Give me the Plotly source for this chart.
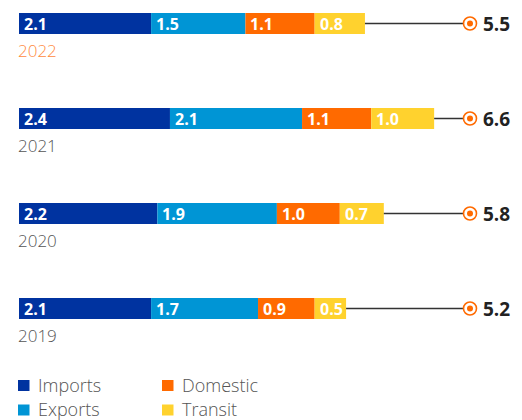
import plotly.graph_objects as go

years = ["2022", "2021", "2020", "2019"]
imports = [2.1, 2.4, 2.2, 2.1]
exports = [1.5, 2.1, 1.9, 1.7]
domestic = [1.1, 1.1, 1.0, 0.9]
transit = [0.8, 1.0, 0.7, 0.5]
totals = [5.5, 6.6, 5.8, 5.2]

series = [
    ("Imports", imports, "#0033A0"),
    ("Exports", exports, "#0095D5"),
    ("Domestic", domestic, "#FF6A00"),
    ("Transit", transit, "#FFD22E"),
]

FONT = "Open Sans"
W, H = 522, 420
px_per_unit = 62.9
x0_px = 19
row_px = 95
row0_px = 23.5
marker_x = (470 - x0_px) / px_per_unit

ypos = list(range(len(years)))

fig = go.Figure()
annotations = []
base = [0.0] * len(years)
for name, vals, color in series:
    fig.add_trace(go.Bar(
        x=vals, y=ypos, base=base, orientation="h", name=name,
        marker=dict(color=color, line=dict(width=0)), width=21 / row_px,
        showlegend=False, hoverinfo="skip",
    ))
    for i, v in enumerate(vals):
        annotations.append(dict(
            x=base[i], y=ypos[i], xref="x", yref="y", text=f"<b>{v:.1f}</b>",
            showarrow=False, xanchor="left", yanchor="middle", xshift=3,
            font=dict(family=FONT, size=16, color="white"),
        ))
    base = [b + v for b, v in zip(base, vals)]

# connector lines and end markers
for i, t in enumerate(totals):
    fig.add_trace(go.Scatter(
        x=[t, marker_x], y=[ypos[i], ypos[i]], mode="lines",
        line=dict(color="#333333", width=1.5), showlegend=False, hoverinfo="skip",
    ))
fig.add_trace(go.Scatter(
    x=[marker_x] * len(years), y=ypos, mode="markers",
    marker=dict(size=13, color="white", line=dict(color="#FF6A00", width=1.6)),
    showlegend=False, hoverinfo="skip",
))
fig.add_trace(go.Scatter(
    x=[marker_x] * len(years), y=ypos, mode="markers",
    marker=dict(size=6, color="#FF6A00"), showlegend=False, hoverinfo="skip",
))
for i, t in enumerate(totals):
    annotations.append(dict(
        x=marker_x, y=ypos[i], xref="x", yref="y", text=f"<b>{t:.1f}</b>",
        showarrow=False, xanchor="left", yanchor="middle", xshift=11,
        font=dict(family=FONT, size=19, color="#222222"),
    ))

# year labels under each bar
for i, yr in enumerate(years):
    annotations.append(dict(
        x=0, y=ypos[i], xref="x", yref="y", text=yr, showarrow=False,
        xanchor="left", yanchor="middle", yshift=-27, xshift=-3,
        font=dict(family=FONT, size=17, weight=300,
                  color="#FF8A3D" if i == 0 else "#555555"),
    ))

# legend built from squares and labels
shapes = []
legend_pos = [(18, 385.5), (18, 410), (162, 385.5), (162, 410)]
for (name, _, color), (lx, ly) in zip(series, legend_pos):
    shapes.append(dict(
        type="rect", xref="paper", yref="paper",
        x0=lx / W, x1=(lx + 11.5) / W, y0=1 - (ly + 5.5) / H, y1=1 - (ly - 5.5) / H,
        fillcolor=color, line=dict(width=0),
    ))
    annotations.append(dict(
        x=(lx + 18) / W, y=1 - (ly - 1) / H, xref="paper", yref="paper", text=name,
        showarrow=False, xanchor="left", yanchor="middle",
        font=dict(family=FONT, size=18, weight=300, color="#555555"),
    ))

fig.update_layout(
    width=W, height=H, margin=dict(l=0, r=0, t=0, b=0),
    paper_bgcolor="white", plot_bgcolor="white", barmode="overlay",
    xaxis=dict(range=[-x0_px / px_per_unit, (W - x0_px) / px_per_unit],
               visible=False, fixedrange=True),
    yaxis=dict(range=[(H - row0_px) / row_px, -row0_px / row_px],
               visible=False, fixedrange=True),
    annotations=annotations, shapes=shapes,
)

fig.write_html("out.html")
